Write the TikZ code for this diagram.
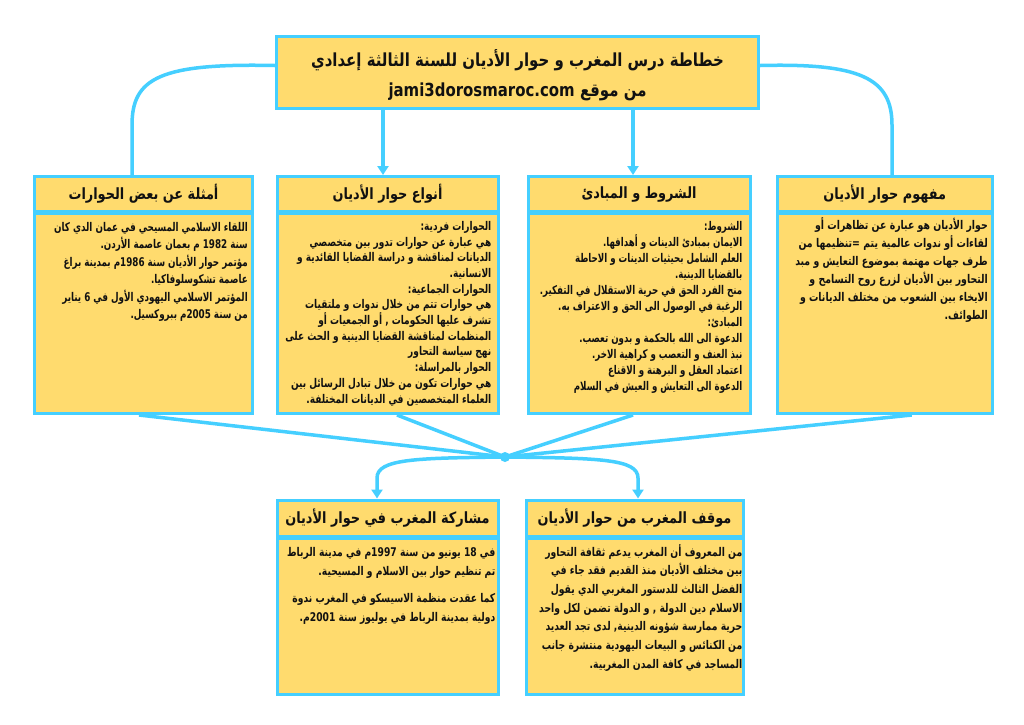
\documentclass[tikz,border=0pt]{standalone}
\usepackage{fontspec}
\usetikzlibrary{arrows.meta}
\TeXXeTstate=1
\newfontfamily\arabicfont[Script=Arabic]{DejaVu Sans}
\definecolor{yl}{HTML}{FFDB6E}
\definecolor{cy}{HTML}{45CFFF}
\definecolor{ink}{HTML}{111111}
\newcommand\RL[1]{\beginR #1\endR}
\tikzset{
  box/.style={draw=cy, fill=yl, line width=3pt, rectangle, inner sep=0pt, text=ink},
  hdr/.style={font=\arabicfont\bfseries\fontsize{15.5}{17}\selectfont\addfontfeature{FakeStretch=0.83}},
  bodytxt/.style 2 args={font=\arabicfont\bfseries\fontsize{12}{#1}\selectfont\addfontfeature{FakeStretch=#2}, align=right, anchor=north east, inner sep=0pt, text=ink},
  conn/.style={draw=cy, line width=3.5pt},
  arr/.style={conn, -{Triangle[length=9pt,width=11pt]}}
}
\begin{document}
\begin{tikzpicture}[x=1pt,y=-1pt]
\fill[white] (0,0) rectangle (1024,724);
\useasboundingbox (0,0) rectangle (1024,724);
% title
\node[box, minimum width=482pt, minimum height=72pt] (tt) at (517.5,72.5) {};
\node[align=center, inner sep=0pt, text=ink,
  font=\arabicfont\bfseries\fontsize{18}{30}\selectfont\addfontfeature{FakeStretch=0.83}] (ttx) at (517.5,75.5)
  {\RL{خطاطة درس المغرب و حوار الأديان للسنة الثالثة إعدادي}\\ \RL{من موقع jami3dorosmaroc.com}};
% top row headers
\node[box, hdr, minimum width=218pt, minimum height=35pt] (hA) at (143.5,194) {\RL{أمثلة عن بعض الحوارات}};
\node[box, hdr, minimum width=221pt, minimum height=35pt] (hB) at (387.5,194) {\RL{أنواع حوار الأديان}};
\node[box, hdr, minimum width=222pt, minimum height=35pt] (hC) at (639,194) {\RL{الشروط و المبادئ}};
\node[box, hdr, minimum width=215.5pt, minimum height=35pt] (hD) at (884.75,194) {\RL{مفهوم حوار الأديان}};
% top row bodies
\node[box, minimum width=218pt, minimum height=200pt] (bA) at (143.5,313.5) {};
\node[box, minimum width=221pt, minimum height=200pt] (bB) at (387.5,313.5) {};
\node[box, minimum width=222pt, minimum height=200pt] (bC) at (639,313.5) {};
\node[box, minimum width=215.5pt, minimum height=200pt] (bD) at (884.75,313.5) {};
% bottom row
\node[box, hdr, minimum width=221pt, minimum height=36.5pt] (hBL) at (387.5,518.25) {\RL{مشاركة المغرب في حوار الأديان}};
\node[box, hdr, minimum width=217pt, minimum height=36.5pt] (hBR) at (634.5,518.25) {\RL{موقف المغرب من حوار الأديان}};
\node[box, minimum width=221pt, minimum height=155.5pt] (bBL) at (387.5,616.25) {};
\node[box, minimum width=217pt, minimum height=155.5pt] (bBR) at (634.5,616.25) {};
% body texts
\node[bodytxt={17.5}{0.73}] (tA) at ([xshift=-6pt,yshift=-10pt]bA.north east)
 {\RL{اللقاء الاسلامي المسيحي في عمان الدي كان}\\
  \RL{سنة 1982 م بعمان عاصمة الأردن.}\\
  \RL{مؤتمر حوار الأديان سنة 1986م بمدينة براغ}\\
  \RL{عاصمة تشكوسلوفاكيا.}\\
  \RL{المؤتمر الاسلامي اليهودي الأول في 6 يناير}\\
  \RL{من سنة 2005م ببروكسيل.}};
\node[bodytxt={15.7}{0.75}] (tB) at ([xshift=-8pt,yshift=-9pt]bB.north east)
 {\RL{الحوارات فردية:}\\
  \RL{هي عبارة عن حوارات تدور بين متخصصي}\\
  \RL{الديانات لمناقشة و دراسة القضايا القائدية و}\\
  \RL{الانسانية.}\\
  \RL{الحوارات الجماعية:}\\
  \RL{هي حوارات تتم من خلال ندوات و ملتقيات}\\
  \RL{تشرف عليها الحكومات , أو الجمعيات أو}\\
  \RL{المنظمات لمناقشة القضايا الدينية و الحث على}\\
  \RL{نهج سياسة التحاور}\\
  \RL{الحوار بالمراسلة:}\\
  \RL{هي حوارات تكون من خلال تبادل الرسائل بين}\\
  \RL{العلماء المتخصصين في الديانات المختلفة.}};
\node[bodytxt={16}{0.72}] (tC) at ([xshift=-9pt,yshift=-9.5pt]bC.north east)
 {\RL{الشروط:}\\
  \RL{الايمان بمبادئ الدينات و أهدافها.}\\
  \RL{العلم الشامل بحيثيات الدينات و الاحاطة}\\
  \RL{بالقضايا الدينية.}\\
  \RL{منح الفرد الحق في حرية الاستقلال في التفكير.}\\
  \RL{الرغبة في الوصول الى الحق و الاعتراف به.}\\
  \RL{المبادئ:}\\
  \RL{الدعوة الى الله بالحكمة و بدون تعصب.}\\
  \RL{نبذ العنف و التعصب و كراهية الاخر.}\\
  \RL{اعتماد العقل و البرهنة و الاقناع}\\
  \RL{الدعوة الى التعايش و العيش في السلام}};
\node[bodytxt={18.1}{0.78}] (tD) at ([xshift=-6pt,yshift=-5pt]bD.north east)
 {\RL{حوار الأديان هو عبارة عن تظاهرات أو}\\
  \RL{لقاءات أو ندوات عالمية يتم =تنظيمها من}\\
  \RL{طرف جهات مهتمة بموضوع التعايش و مبد}\\
  \RL{التحاور بين الأديان لزرع روح التسامح و}\\
  \RL{الايخاء بين الشعوب من مختلف الديانات و}\\
  \RL{الطوائف.}};
\node[bodytxt={18.5}{0.765}] (tBL) at ([xshift=-4pt,yshift=-10.5pt]bBL.north east)
 {\RL{في 18 يونيو من سنة 1997م في مدينة الرباط}\\
  \RL{تم تنظيم حوار بين الاسلام و المسيحية.}\\[9pt]
  \RL{كما عقدت منظمة الاسيسكو في المغرب ندوة}\\
  \RL{دولية بمدينة الرباط في يوليوز سنة 2001م.}};
\node[bodytxt={18.7}{0.77}] (tBR) at ([xshift=-2pt,yshift=-7pt]bBR.north east)
 {\RL{من المعروف أن المغرب يدعم ثقافة التحاور}\\
  \RL{بين مختلف الأديان منذ القديم فقد جاء في}\\
  \RL{الفضل الثالث للدستور المغربي الدي يقول}\\
  \RL{الاسلام دين الدولة , و الدولة تضمن لكل واحد}\\
  \RL{حرية ممارسة شؤونه الدينية, لدى تجد العديد}\\
  \RL{من الكنائس و البيعات اليهودية منتشرة جانب}\\
  \RL{المساجد في كافة المدن المغربية.}};
% connectors from title
\draw[conn] ([yshift=7pt]tt.west) .. controls (160,63) and (132,78) .. (132,125) -- ([xshift=-11.5pt]hA.north);
\draw[conn] ([yshift=7pt]tt.east) .. controls (860,63) and (892,78) .. (892,125) -- ([xshift=7.25pt]hD.north);
\draw[arr] ([xshift=-134.5pt]tt.south) -- ([xshift=-4.5pt]hB.north);
\draw[arr] ([xshift=115.5pt]tt.south) -- ([xshift=-6pt]hC.north);
% junction
\node[circle, fill=cy, inner sep=0pt, minimum width=8pt, minimum height=10pt] (J) at (505,457) {};
\draw[conn] ([xshift=-4.5pt]bA.south) -- (J.center);
\draw[conn] ([xshift=9.5pt]bB.south) -- (J.center);
\draw[conn] ([xshift=-6pt]bC.south) -- (J.center);
\draw[conn] ([xshift=27pt]bD.south) -- (J.center);
\draw[arr] (J.center) .. controls (415,458) and (377,459) .. (377,478) -- ([xshift=-10.5pt]hBL.north);
\draw[arr] (J.center) .. controls (600,458) and (638,459) .. (638,478) -- ([xshift=3.5pt]hBR.north);
\end{tikzpicture}
\end{document}
